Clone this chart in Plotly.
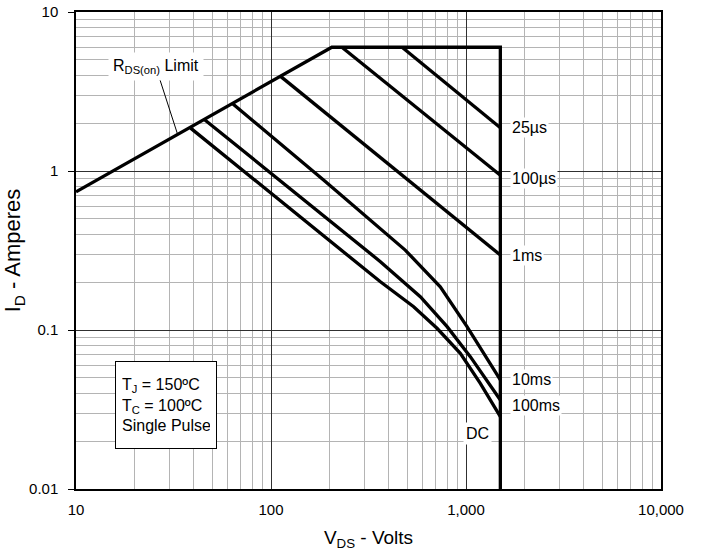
import numpy as np
import plotly.graph_objects as go

# ---- data ----
limit_v = [10, 205, 1500, 1500]
limit_i = [0.74, 6.0, 6.0, 0.01]

v_25us = [470, 1500]
i_25us = [6.0, 1.87]

v_100us = [231, 1500]
i_100us = [6.0, 0.94]

v_1ms = [111.6, 1500]
i_1ms = [3.95, 0.296]

v_10ms = [63.6, 186, 488, 738, 1012, 1230, 1500]
i_10ms = [2.65, 0.877, 0.318, 0.187, 0.105, 0.0713, 0.0485]

v_100ms = [45.5, 364, 583, 800, 1052, 1500]
i_100ms = [2.11, 0.269, 0.162, 0.105, 0.068, 0.0363]

v_dc = [38.7, 364, 539, 710, 935, 1184, 1500]
i_dc = [1.86, 0.201, 0.140, 0.1025, 0.0713, 0.0462, 0.0285]

x_tickvals = [10, 100, 1000, 10000]
x_ticktext = ["10", "100", "1,000", "10,000"]
y_tickvals = [0.01, 0.1, 1, 10]
y_ticktext = ["0.01", "0.1", "1", "10"]

FONT = "Liberation Sans, Arial, sans-serif"

fig = go.Figure()
series = [
    (limit_v, limit_i),
    (v_25us, i_25us),
    (v_100us, i_100us),
    (v_1ms, i_1ms),
    (v_10ms, i_10ms),
    (v_100ms, i_100ms),
    (v_dc, i_dc),
]
for vx, iy in series:
    fig.add_trace(go.Scatter(x=vx, y=iy, mode="lines",
                             line=dict(color="black", width=3.3),
                             showlegend=False, hoverinfo="skip"))

minor_x = [m * 10 ** d for d in range(1, 4) for m in range(2, 10)]
minor_y = [m * 10.0 ** d for d in range(-2, 1) for m in range(2, 10)]

fig.update_xaxes(type="log", range=[1, 4], automargin=False,
                 tickvals=x_tickvals, ticktext=x_ticktext,
                 showgrid=True, gridcolor="#303030", gridwidth=1,
                 minor=dict(tickvals=minor_x, showgrid=True, gridcolor="#b4b4b4", gridwidth=1),
                 showline=True, mirror=True, linecolor="black", linewidth=1.5,
                 ticks="outside", ticklen=4, tickcolor="rgba(0,0,0,0)", zeroline=False,
                 ticklabelstandoff=2,
                 tickfont=dict(family=FONT, size=15, color="black"),
                 title=dict(text="V<sub>DS</sub> - Volts", font=dict(family=FONT, size=19, color="black"),
                            standoff=14))
fig.update_yaxes(type="log", range=[-2, 1], automargin=False,
                 tickvals=y_tickvals, ticktext=y_ticktext,
                 showgrid=True, gridcolor="#303030", gridwidth=1,
                 minor=dict(tickvals=minor_y, showgrid=True, gridcolor="#b4b4b4", gridwidth=1),
                 showline=True, mirror=True, linecolor="black", linewidth=1.5,
                 ticks="outside", ticklen=6, tickcolor="black", zeroline=False,
                 ticklabelstandoff=7,
                 tickfont=dict(family=FONT, size=15, color="black"),
                 title=dict(text="I<sub>D</sub> - Amperes", font=dict(family=FONT, size=22, color="black"),
                            standoff=4))

lab_font = dict(family=FONT, size=16, color="black")
end_labels = [
    ("25µs", v_25us[-1], i_25us[-1], 0),
    ("100µs", v_100us[-1], i_100us[-1], -3),
    ("1ms", v_1ms[-1], i_1ms[-1], 0),
    ("10ms", v_10ms[-1], i_10ms[-1], 0),
    ("100ms", v_100ms[-1], i_100ms[-1], -6),
]
for txt, xv, yv, ys in end_labels:
    fig.add_annotation(x=np.log10(xv), y=np.log10(yv), xref="x", yref="y",
                       text=txt, showarrow=False, xanchor="left", yanchor="middle",
                       xshift=10, yshift=ys, bgcolor="white", borderpad=1, font=lab_font)

fig.add_annotation(x=np.log10(1143), y=np.log10(0.0225), xref="x", yref="y",
                   text="DC", showarrow=False, xanchor="center", yanchor="middle",
                   bgcolor="white", borderpad=2, font=lab_font)

# R_DS(on) limit label with leader
lv = 33.2
li = 0.74 * (lv / 10) ** (np.log10(6.0 / 0.74) / np.log10(205 / 10))
fig.add_annotation(x=np.log10(lv), y=np.log10(li), xref="x", yref="y",
                   text="R<sub>DS(on)</sub> Limit", showarrow=True, arrowhead=0,
                   arrowwidth=1, arrowcolor="black", ax=-22, ay=-68, standoff=0,
                   bgcolor="white", borderpad=4, font=lab_font)

fig.add_annotation(x=np.log10(15.9), y=np.log10(0.064), xref="x", yref="y",
                   text="T<sub>J</sub> = 150ºC<br>T<sub>C</sub> = 100ºC<br>Single Pulse",
                   showarrow=False, xanchor="left", yanchor="top", align="left",
                   width=88, height=74, valign="middle",
                   bgcolor="white", bordercolor="black", borderwidth=1, borderpad=6,
                   font=lab_font)

fig.update_layout(width=704, height=558,
                  margin=dict(l=76, r=43, t=12, b=69),
                  paper_bgcolor="white", plot_bgcolor="white",
                  font=dict(family=FONT, color="black"))

# remove the browser's default 8px body margin so the figure fills the window exactly
fig.write_html("out.html", config={"displayModeBar": False},
               post_script="document.body.style.margin='0';document.body.style.overflow='hidden';")
